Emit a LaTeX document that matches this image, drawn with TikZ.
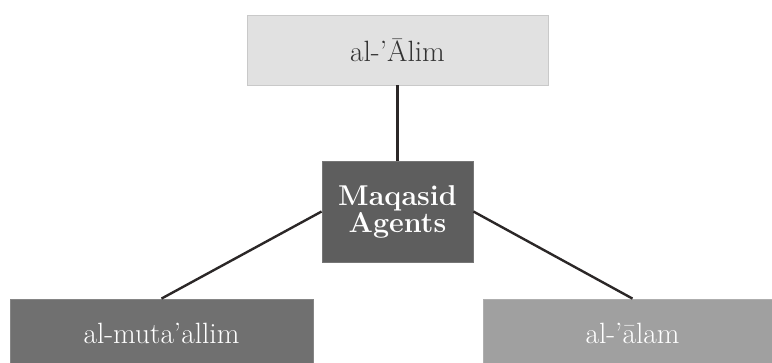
\documentclass[tikz,border=0pt]{standalone}
\usepackage{fontspec}
\definecolor{topfill}{HTML}{E1E1E1}
\definecolor{topline}{HTML}{C9C9C9}
\definecolor{midfill}{HTML}{5E5E5E}
\definecolor{leftfill}{HTML}{707070}
\definecolor{rightfill}{HTML}{A0A0A0}
\definecolor{linkcol}{HTML}{2B2727}
\definecolor{toptext}{HTML}{333333}
\tikzset{
  box/.style={rectangle, inner sep=0pt, align=center, draw=#1!85!white, line width=0.6pt, fill=#1},
  link/.style={draw=linkcol, line width=1.8pt},
  plaintext/.style={font=\fontsize{22}{24}\selectfont},
  boldtext/.style={font=\fontsize{21.5}{19}\selectfont\bfseries}
}
\begin{document}
\begin{tikzpicture}[x=0.75pt,y=-0.75pt]
\useasboundingbox (0,0) rectangle (772,363);
\clip (0,0) rectangle (772,363);
\node[box=topfill, draw=topline, minimum width=225.75pt, minimum height=52.5pt, text=toptext, plaintext] (alim) at (397.5,50) {al-'\=Alim};
\node[box=midfill, minimum width=113.25pt, minimum height=75.75pt, text=white, boldtext] (agents) at (397.5,211.5) {Maqasid\\Agents};
\node[box=leftfill, minimum width=227.25pt, minimum height=51pt, text=white, plaintext] (mutaallim) at (161.5,333) {al-muta'allim};
\node[box=rightfill, minimum width=224.25pt, minimum height=51pt, text=white, plaintext] (alam) at (632.5,333) {al-'\=alam};
\draw[link] (alim.south) -- (agents.north);
\draw[link] (agents.west) -- (mutaallim.north);
\draw[link] (agents.east) -- (alam.north);
\end{tikzpicture}
\end{document}
